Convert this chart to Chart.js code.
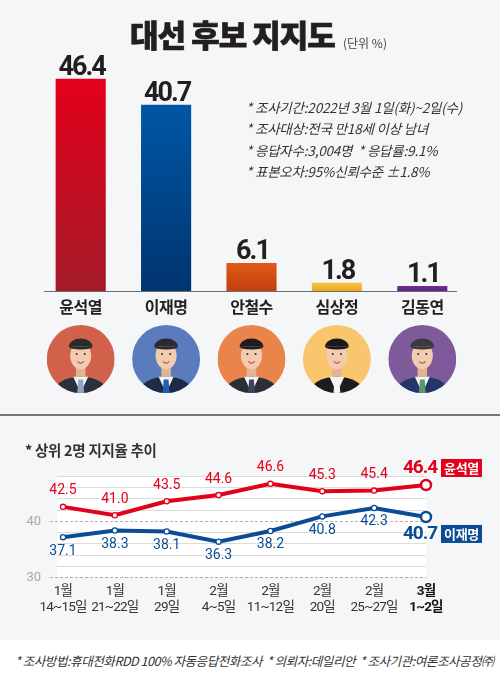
<!DOCTYPE html>
<html><head><meta charset="utf-8">
<script src="https://cdn.jsdelivr.net/npm/chart.js@4.4.1/dist/chart.umd.min.js"></script>
<style>
html,body{margin:0;padding:0;}
body{width:500px;height:680px;position:relative;background:#f5f6f8;font-family:"Noto Sans CJK KR","Noto Sans",sans-serif;overflow:hidden;}
#top{position:absolute;left:0;top:0;width:500px;height:414px;}
#sep{position:absolute;left:0;top:414px;width:500px;height:1.5px;background:#777;}
#bottom{position:absolute;left:0;top:420px;width:500px;height:220px;}
#footer{position:absolute;left:0;top:640px;width:500px;height:40px;background:#fff;}
#title{position:absolute;left:130px;top:17px;font-size:31px;font-weight:900;letter-spacing:-1px;color:#231f20;line-height:1.1;white-space:nowrap;-webkit-text-stroke:0.7px #231f20;}
#unit{position:absolute;left:343px;top:34px;font-size:12px;color:#444;white-space:nowrap;}
#notes{position:absolute;left:246px;top:97px;font-size:13.5px;font-style:italic;color:#333;line-height:21.3px;letter-spacing:-0.2px;white-space:nowrap;}
#sub{position:absolute;left:25px;top:439px;font-size:14.5px;font-weight:700;color:#333;white-space:nowrap;letter-spacing:-0.3px;}
#foot{position:absolute;left:15px;top:651px;font-size:12.6px;font-style:italic;color:#333;white-space:nowrap;letter-spacing:-0.5px;}
</style></head>
<body>
<div id="top"><canvas id="bar"></canvas></div>
<div id="sep"></div>
<div id="bottom"><canvas id="line"></canvas></div>
<div id="footer"></div>
<div id="title">대선 후보 지지도</div>
<div id="unit">(단위 %)</div>
<div id="notes">* 조사기간:2022년 3월 1일(화)~2일(수)<br>* 조사대상:전국 만18세 이상 남녀<br>* 응답자수:3,004명 &nbsp;* 응답률:9.1%<br>* 표본오차:95%신뢰수준 ±1.8%</div>
<div id="sub">* 상위 2명 지지율 추이</div>
<div id="foot">* 조사방법:휴대전화RDD 100% 자동응답전화조사 &nbsp;* 의뢰자:데일리안 &nbsp;* 조사기관:여론조사공정㈜</div>
<script>
// ---- data ----
const barCategories = ['윤석열', '이재명', '안철수', '심상정', '김동연'];
const barValues = [46.4, 40.7, 6.1, 1.8, 1.1];
const trendLabels = [['1월','14~15일'],['1월','21~22일'],['1월','29일'],['2월','4~5일'],['2월','11~12일'],['2월','20일'],['2월','25~27일'],['3월','1~2일']];
const yoonTrend = [42.5, 41.0, 43.5, 44.6, 46.6, 45.3, 45.4, 46.4];
const leeTrend = [37.1, 38.3, 38.1, 36.3, 38.2, 40.8, 42.3, 40.7];
const yTickLabels = [30, 40];
const seriesNames = ['윤석열', '이재명'];

// ---- styles ----
const barGrad = [['#e3001b','#a31a28'],['#0057a6','#00346f'],['#e05a18','#c13e10'],['#f9c63c','#eea526'],['#6e2e92','#5f2582']];
const portrait = [
  {bg:'#d2614b', hair:'#2b2b2e', suit:'#2c3140', tie:'#8fa6c8'},
  {bg:'#5a7cbd', hair:'#2a2a30', suit:'#1f2a48', tie:'#1e5fb0'},
  {bg:'#e9844b', hair:'#1e1e22', suit:'#2b2f3a', tie:'#3a4660'},
  {bg:'#f9c66d', hair:'#1a1a1c', suit:'#1c1c20', tie:'#f4f4f4'},
  {bg:'#7e5a9b', hair:'#3a3a3e', suit:'#24356a', tie:'#5a9a6a'}
];
const RED = '#e3001b', BLUE = '#0a4d96';

function drawPortrait(ctx, cx, cy, r, p) {
  ctx.save();
  ctx.beginPath(); ctx.arc(cx, cy, r, 0, Math.PI*2); ctx.clip();
  ctx.fillStyle = p.bg; ctx.fillRect(cx-r, cy-r, 2*r, 2*r);
  ctx.fillStyle = '#e2b394'; ctx.fillRect(cx-r*0.14, cy+r*0.2, r*0.28, r*0.4);
  ctx.fillStyle = p.suit; ctx.beginPath(); ctx.ellipse(cx, cy+r*1.02, r*0.82, r*0.5, 0, 0, Math.PI*2); ctx.fill();
  ctx.fillStyle = '#f3f3f3'; ctx.beginPath(); ctx.moveTo(cx-r*0.22, cy+r*0.52); ctx.lineTo(cx+r*0.22, cy+r*0.52); ctx.lineTo(cx, cy+r*1.0); ctx.closePath(); ctx.fill();
  ctx.fillStyle = p.tie; ctx.beginPath(); ctx.moveTo(cx-r*0.07, cy+r*0.6); ctx.lineTo(cx+r*0.07, cy+r*0.6); ctx.lineTo(cx+r*0.1, cy+r*1.0); ctx.lineTo(cx-r*0.1, cy+r*1.0); ctx.closePath(); ctx.fill();
  ctx.fillStyle = '#f2cbb0'; ctx.beginPath(); ctx.ellipse(cx, cy-r*0.1, r*0.31, r*0.4, 0, 0, Math.PI*2); ctx.fill();
  ctx.fillStyle = p.hair; ctx.beginPath(); ctx.ellipse(cx, cy-r*0.36, r*0.35, r*0.24, 0, Math.PI, Math.PI*2); ctx.fill();
  ctx.beginPath(); ctx.ellipse(cx, cy-r*0.36, r*0.35, r*0.08, 0, 0, Math.PI); ctx.fill();
  ctx.strokeStyle = '#b55a50'; ctx.lineWidth = 1.2; ctx.beginPath(); ctx.arc(cx, cy+r*0.02, r*0.1, 0.15*Math.PI, 0.85*Math.PI); ctx.stroke();
  ctx.fillStyle = '#3a2a22'; ctx.beginPath(); ctx.arc(cx-r*0.12, cy-r*0.15, r*0.03, 0, Math.PI*2); ctx.arc(cx+r*0.12, cy-r*0.15, r*0.03, 0, Math.PI*2); ctx.fill();
  ctx.restore();
}

const barPlugin = {
  id: 'barDecor',
  afterDatasetsDraw(chart) {
    const ctx = chart.ctx;
    const meta = chart.getDatasetMeta(0);
    ctx.save();
    const base = chart.scales.y.getPixelForValue(0);
    ctx.strokeStyle = '#6d6d6d'; ctx.lineWidth = 1.2;
    ctx.beginPath(); ctx.moveTo(44, base + 0.5); ctx.lineTo(457, base + 0.5); ctx.stroke();
    meta.data.forEach((bar, i) => {
      ctx.fillStyle = '#231f20';
      ctx.font = '700 27px Roboto';
      ctx.letterSpacing = '-2px';
      ctx.textAlign = 'center'; ctx.textBaseline = 'alphabetic';
      ctx.fillText(barValues[i].toFixed(1), bar.x + 1, bar.y - 4);
      ctx.font = '700 16px "Noto Sans CJK KR"';
      ctx.letterSpacing = '-0.5px';
      ctx.textBaseline = 'middle';
      ctx.fillText(barCategories[i], bar.x, base + 16);
      drawPortrait(ctx, bar.x, base + 68, 34, portrait[i]);
    });
    ctx.restore();
  }
};

new Chart(document.getElementById('bar'), {
  type: 'bar',
  data: {
    labels: barCategories,
    datasets: [{
      data: barValues,
      backgroundColor: (c) => {
        const chart = c.chart;
        if (!chart.chartArea || c.dataIndex === undefined) return barGrad[0][0];
        const y = chart.scales.y;
        const top = y.getPixelForValue(barValues[c.dataIndex]);
        const bot = y.getPixelForValue(0);
        const g = chart.ctx.createLinearGradient(0, top, 0, bot);
        g.addColorStop(0, barGrad[c.dataIndex][0]);
        g.addColorStop(1, barGrad[c.dataIndex][1]);
        return g;
      },
      borderWidth: 0,
      categoryPercentage: 1,
      barPercentage: 0.587
    }]
  },
  options: {
    responsive: true, maintainAspectRatio: false, animation: false,
    layout: { padding: { left: 38, right: 35, top: 20, bottom: 123 } },
    plugins: { legend: { display: false }, tooltip: { enabled: false } },
    scales: {
      x: { display: false },
      y: { display: false, min: 0, max: 59.22 }
    }
  },
  plugins: [barPlugin]
});

const linePlugin = {
  id: 'lineDecor',
  beforeDatasetsDraw(chart) {
    const ctx = chart.ctx, y = chart.scales.y, a = chart.chartArea;
    ctx.save();
    const left = a.left - 6, right = a.right;
    ctx.fillStyle = '#ffffff';
    ctx.fillRect(left, y.getPixelForValue(48), right - left, y.getPixelForValue(30) - y.getPixelForValue(48));
    for (let v = 32; v <= 48; v += 2) {
      if (v === 40) continue;
      const py = Math.round(y.getPixelForValue(v)) + 0.5;
      ctx.strokeStyle = '#dcdcdc'; ctx.lineWidth = 1;
      ctx.beginPath(); ctx.moveTo(left, py); ctx.lineTo(right, py); ctx.stroke();
    }
    yTickLabels.forEach(v => {
      const py = Math.round(y.getPixelForValue(v)) + 0.5;
      ctx.strokeStyle = '#b0b0b0'; ctx.lineWidth = 1; ctx.setLineDash([3, 2]);
      ctx.beginPath(); ctx.moveTo(a.left - 13, py); ctx.lineTo(right, py); ctx.stroke();
      ctx.setLineDash([]);
      ctx.fillStyle = '#a8a8a8'; ctx.font = '13px Roboto';
      ctx.textAlign = 'right'; ctx.textBaseline = 'middle';
      ctx.fillText(String(v), a.left - 22, py);
    });
    ctx.restore();
  },
  afterDatasetsDraw(chart) {
    const ctx = chart.ctx;
    ctx.save();
    ctx.textAlign = 'center';
    const n = trendLabels.length;
    [0, 1].forEach(di => {
      const meta = chart.getDatasetMeta(di);
      const vals = di === 0 ? yoonTrend : leeTrend;
      const col = di === 0 ? RED : BLUE;
      meta.data.forEach((pt, i) => {
        const last = i === n - 1;
        ctx.fillStyle = col;
        ctx.textBaseline = 'middle';
        if (last) {
          ctx.font = '700 19px Roboto'; ctx.letterSpacing = '-1px';
          ctx.fillText(vals[i].toFixed(1), pt.x - 6, di === 0 ? pt.y - 17 : pt.y + 17);
          const ty = di === 0 ? pt.y - 26 : pt.y + 8;
          ctx.fillRect(pt.x + 15, ty, 41, 18);
          ctx.fillStyle = '#fff'; ctx.font = '700 13px "Noto Sans CJK KR"'; ctx.letterSpacing = '-0.3px';
          ctx.fillText(seriesNames[di], pt.x + 35.5, ty + 9.5);
        } else {
          ctx.font = '14px Roboto'; ctx.letterSpacing = '0px';
          ctx.fillText(vals[i].toFixed(1), pt.x, di === 0 ? pt.y - 16 : pt.y + 14);
        }
      });
    });
    const x = chart.scales.x;
    trendLabels.forEach((lbl, i) => {
      const px = x.getPixelForValue(i);
      const last = i === n - 1;
      ctx.fillStyle = last ? '#111' : '#333';
      ctx.font = (last ? '700 ' : '400 ') + '13.5px Roboto, "Noto Sans CJK KR"';
      ctx.letterSpacing = '-0.8px';
      ctx.textBaseline = 'middle';
      ctx.fillText(lbl[0], px, 172);
      ctx.fillText(lbl[1], px, 188);
    });
    ctx.restore();
  }
};

new Chart(document.getElementById('line'), {
  type: 'line',
  data: {
    labels: trendLabels.map(l => l.join(' ')),
    datasets: [
      { data: yoonTrend, borderColor: RED, borderWidth: 4, pointBackgroundColor: '#fff', pointBorderColor: RED,
        pointRadius: (c) => c.dataIndex === yoonTrend.length - 1 ? 5 : 2.6,
        pointBorderWidth: (c) => c.dataIndex === yoonTrend.length - 1 ? 2.5 : 1.3, tension: 0, clip: false },
      { data: leeTrend, borderColor: BLUE, borderWidth: 4, pointBackgroundColor: '#fff', pointBorderColor: BLUE,
        pointRadius: (c) => c.dataIndex === leeTrend.length - 1 ? 5 : 2.6,
        pointBorderWidth: (c) => c.dataIndex === leeTrend.length - 1 ? 2.5 : 1.3, tension: 0, clip: false }
    ]
  },
  options: {
    responsive: true, maintainAspectRatio: false, animation: false,
    layout: { padding: { left: 63, right: 74, top: 56, bottom: 63 } },
    plugins: { legend: { display: false }, tooltip: { enabled: false } },
    scales: {
      x: { display: false, offset: false },
      y: { display: false, min: 30, max: 48 }
    }
  },
  plugins: [linePlugin]
});
</script>
</body></html>
